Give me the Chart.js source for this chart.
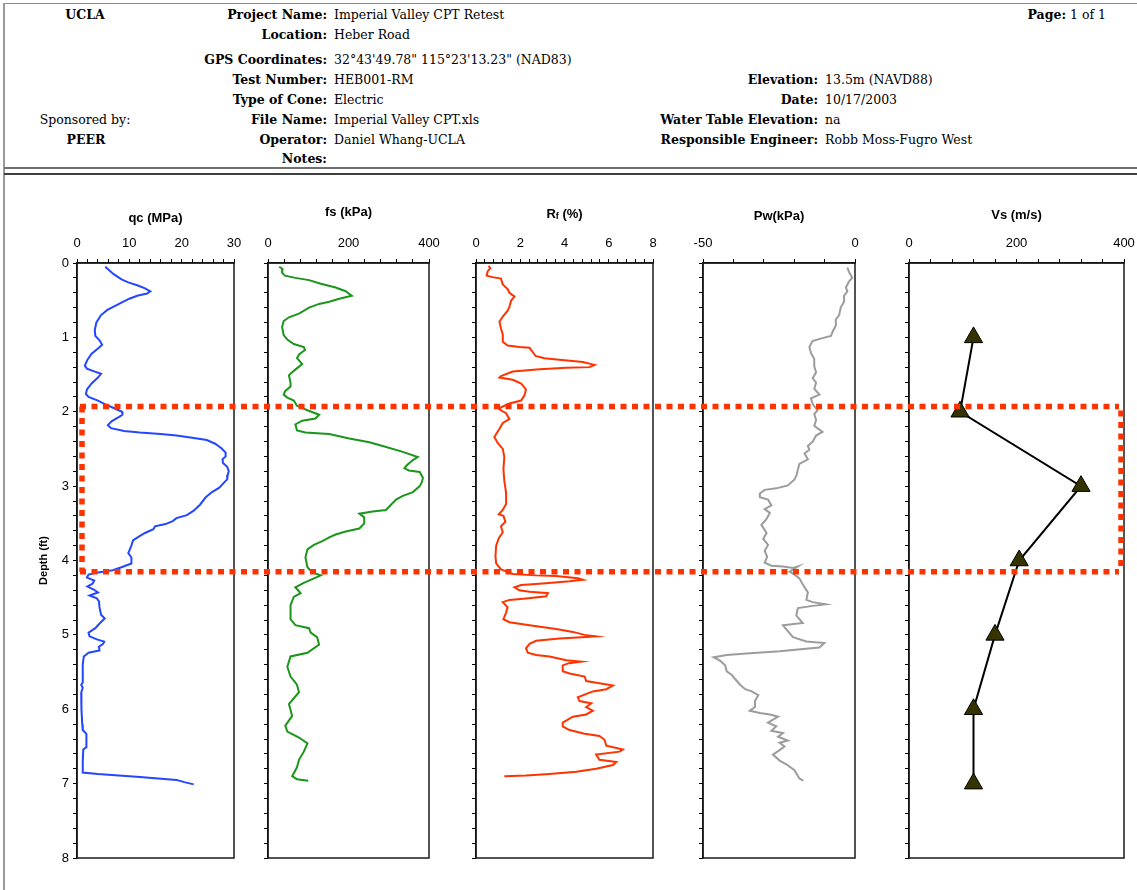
<!DOCTYPE html>
<html>
<head>
<meta charset="utf-8">
<title>CPT log - HEB001-RM</title>
<script src="https://cdn.jsdelivr.net/npm/chart.js@4.4.1/dist/chart.umd.min.js"></script>
<style>
  html, body { margin: 0; padding: 0; background: #fff; }
  body { width: 1137px; height: 890px; position: relative; overflow: hidden; }
  .hd { position: absolute; font-family: "DejaVu Serif", "Liberation Serif", serif; font-size: 12.5px;
        line-height: 14px; white-space: nowrap; color: #000; }
  .b { font-weight: bold; }
  .lab { text-align: right; }
  .ctr { text-align: center; width: 110px; }
  .rule { position: absolute; }
  canvas { position: absolute; }
</style>
</head>
<body>

<!-- header frame -->
<div class="rule" style="left:4px;top:3px;width:1133px;height:1px;background:#8a8a8a;"></div>
<div class="rule" style="left:3px;top:3px;width:2px;height:887px;background:#9a9a9a;"></div>
<div class="rule" style="left:4px;top:167px;width:1133px;height:2px;background:#707070;"></div>
<div class="rule" style="left:4px;top:173px;width:1133px;height:2px;background:#404040;"></div>

<!-- header: left block -->
<div class="hd b ctr" style="left:30px;top:8px;">UCLA</div>
<div class="hd ctr" style="left:30px;top:113px;">Sponsored by:</div>
<div class="hd b ctr" style="left:31px;top:133px;">PEER</div>

<!-- header: project fields -->
<div class="hd b lab" style="right:810px;top:8px;">Project Name:</div>
<div class="hd" style="left:334px;top:8px;">Imperial Valley CPT Retest</div>
<div class="hd b lab" style="right:810px;top:28px;">Location:</div>
<div class="hd" style="left:334px;top:28px;">Heber Road</div>
<div class="hd b lab" style="right:810px;top:53px;">GPS Coordinates:</div>
<div class="hd" style="left:334px;top:53px;">32°43'49.78" 115°23'13.23" (NAD83)</div>
<div class="hd b lab" style="right:810px;top:73px;">Test Number:</div>
<div class="hd" style="left:334px;top:73px;">HEB001-RM</div>
<div class="hd b lab" style="right:810px;top:93px;">Type of Cone:</div>
<div class="hd" style="left:334px;top:93px;">Electric</div>
<div class="hd b lab" style="right:810px;top:113px;">File Name:</div>
<div class="hd" style="left:334px;top:113px;">Imperial Valley CPT.xls</div>
<div class="hd b lab" style="right:810px;top:133px;">Operator:</div>
<div class="hd" style="left:334px;top:133px;">Daniel Whang-UCLA</div>
<div class="hd b lab" style="right:810px;top:152px;">Notes:</div>

<!-- header: right block -->
<div class="hd lab" style="right:31px;top:8px;"><span class="b">Page:</span> 1 of 1</div>
<div class="hd b lab" style="right:319px;top:73px;">Elevation:</div>
<div class="hd" style="left:825px;top:73px;">13.5m (NAVD88)</div>
<div class="hd b lab" style="right:319px;top:93px;">Date:</div>
<div class="hd" style="left:825px;top:93px;">10/17/2003</div>
<div class="hd b lab" style="right:319px;top:113px;">Water Table Elevation:</div>
<div class="hd" style="left:825px;top:113px;">na</div>
<div class="hd b lab" style="right:319px;top:133px;">Responsible Engineer:</div>
<div class="hd" style="left:825px;top:133px;">Robb Moss-Fugro West</div>

<div id="plots"></div>

<script>
// ---- depth axis (shared by all five logs) ----
const depthRange = [0, 8];
const depthMinorStep = 0.2;
const depthTickLabels = [0, 1, 2, 3, 4, 5, 6, 7, 8];

// ---- cone tip resistance qc (MPa) ----
const qcDepth = [0.05,0.15,0.22,0.26,0.30,0.34,0.38,0.41,0.44,0.48,0.53,0.58,0.63,0.70,0.80,0.90,0.98,1.04,1.10,1.15,
  1.22,1.30,1.38,1.42,1.46,1.49,1.54,1.62,1.70,1.76,1.80,1.85,1.90,1.95,2.00,2.04,2.08,2.13,2.18,2.22,
  2.26,2.28,2.30,2.32,2.35,2.38,2.43,2.49,2.55,2.60,2.64,2.69,2.74,2.80,2.85,2.91,2.96,3.02,3.08,3.15,
  3.25,3.33,3.39,3.43,3.47,3.51,3.54,3.58,3.63,3.68,3.73,3.80,3.90,3.96,4.04,4.09,4.13,4.16,4.19,4.23,
  4.27,4.31,4.35,4.39,4.43,4.47,4.51,4.55,4.63,4.73,4.78,4.84,4.91,4.97,5.02,5.06,5.09,5.12,5.16,5.21,
  5.24,5.29,5.40,5.55,5.64,5.67,5.71,5.78,5.90,6.00,6.20,6.28,6.33,6.45,6.51,6.54,6.70,6.85,6.87,6.89,
  6.91,6.93,6.95,6.98,7.01];
const qcValues = [5.4,7.0,8.5,9.8,11.5,13.0,14.0,13.4,11.5,10.0,8.6,7.2,5.8,4.6,3.7,3.4,3.5,4.3,4.8,4.0,
  2.8,2.0,1.5,1.9,3.4,4.6,4.0,2.8,1.9,1.7,2.2,4.0,5.4,7.0,8.6,8.7,7.8,6.6,5.9,6.5,
  9.0,12.0,16.0,19.0,22.0,24.8,26.4,27.6,28.4,28.4,27.8,27.9,28.7,29.0,28.8,28.7,28.0,27.2,25.8,24.6,
  23.5,22.3,21.0,19.0,18.3,16.9,14.9,14.6,13.0,11.8,10.7,10.4,9.8,10.4,10.4,8.5,6.8,4.0,2.2,1.9,
  3.3,3.0,2.0,3.2,4.0,2.4,3.8,4.2,4.3,4.6,5.3,4.4,3.5,2.2,2.4,3.8,5.2,5.0,4.2,4.3,
  2.2,1.3,1.1,1.1,1.1,0.8,1.1,0.8,0.8,0.9,1.0,1.1,1.8,1.8,1.8,1.2,1.1,1.1,4.0,8.0,
  12.0,15.5,19.0,20.5,22.3];

// ---- sleeve friction fs (kPa) ----
const fsDepth = [0.05,0.08,0.13,0.17,0.20,0.23,0.28,0.33,0.38,0.44,0.48,0.52,0.55,0.60,0.68,0.73,0.78,0.86,0.97,1.03,
  1.09,1.13,1.17,1.23,1.28,1.36,1.45,1.51,1.61,1.66,1.72,1.77,1.81,1.85,1.92,1.98,2.04,2.09,2.12,2.17,
  2.25,2.28,2.30,2.36,2.41,2.46,2.54,2.61,2.65,2.72,2.76,2.79,2.81,2.89,2.95,3.00,3.08,3.13,3.18,3.32,
  3.34,3.37,3.42,3.50,3.57,3.61,3.65,3.69,3.74,3.79,3.85,3.96,4.09,4.16,4.20,4.25,4.30,4.36,4.44,4.49,
  4.60,4.79,4.87,4.91,4.97,5.03,5.13,5.24,5.29,5.43,5.56,5.67,5.77,5.93,6.09,6.22,6.30,6.38,6.46,6.57,
  6.68,6.78,6.90,6.94,6.96];
const fsValues = [28,36,35,42,68,102,131,168,193,208,177,152,127,102,77,52,39,35,39,48,
  64,89,92,77,72,85,64,52,56,56,43,39,48,64,72,98,127,118,85,68,
  72,93,152,202,252,285,335,372,360,345,339,350,377,385,382,377,360,335,318,293,
  260,227,239,239,227,193,168,152,135,114,98,93,98,110,131,110,89,68,81,64,
  56,56,68,102,106,122,127,98,56,48,56,72,77,52,60,43,48,77,98,89,
  77,72,60,72,100];

// ---- friction ratio Rf (%) ----
const rfDepth = [0.04,0.07,0.11,0.17,0.19,0.21,0.29,0.35,0.40,0.45,0.51,0.59,0.64,0.72,0.79,0.88,0.96,1.06,1.11,1.13,
  1.14,1.20,1.25,1.28,1.30,1.33,1.37,1.40,1.41,1.43,1.46,1.52,1.54,1.57,1.62,1.70,1.78,1.85,1.89,1.94,
  1.97,2.02,2.10,2.15,2.23,2.34,2.42,2.50,2.61,2.77,2.93,3.09,3.24,3.32,3.38,3.40,3.48,3.54,3.62,3.70,
  3.80,3.94,4.04,4.12,4.18,4.20,4.21,4.24,4.26,4.28,4.31,4.33,4.36,4.40,4.42,4.44,4.48,4.51,4.53,4.56,
  4.63,4.70,4.79,4.83,4.87,4.92,4.96,5.00,5.02,5.03,5.05,5.08,5.12,5.18,5.24,5.27,5.29,5.34,5.36,5.38,
  5.41,5.49,5.52,5.56,5.62,5.65,5.68,5.73,5.76,5.84,5.89,5.92,5.97,6.02,6.07,6.10,6.18,6.23,6.28,6.33,
  6.36,6.41,6.49,6.54,6.57,6.61,6.68,6.71,6.75,6.80,6.84,6.87,6.89,6.90];
const rfValues = [0.57,0.65,0.53,0.48,0.75,1.13,1.21,1.43,1.51,1.74,1.58,1.51,1.43,1.21,1.06,1.13,1.21,1.21,1.43,1.96,
  2.42,2.57,2.69,3.09,3.77,4.83,5.36,5.13,4.08,2.87,1.66,1.13,1.06,1.66,2.04,2.26,2.19,2.04,1.51,1.13,
  1.06,1.36,1.51,1.21,1.06,0.83,0.98,1.21,1.28,1.24,1.28,1.36,1.36,1.21,1.03,1.24,1.33,1.13,1.21,1.03,
  0.91,0.88,0.91,1.13,1.66,2.72,3.62,4.60,4.83,4.23,3.02,2.04,1.74,1.96,2.42,3.25,3.17,2.26,1.51,1.21,
  1.43,1.36,1.24,1.51,2.42,3.62,4.38,4.91,5.43,4.98,3.77,2.72,2.42,2.26,2.34,2.72,3.32,4.08,4.75,4.20,
  3.92,3.92,4.23,4.91,4.98,5.58,6.19,5.89,5.28,4.60,4.68,5.21,4.98,5.28,4.98,4.38,3.92,3.92,4.23,4.91,
  5.58,5.81,5.89,6.64,6.49,5.43,5.58,6.34,6.19,5.43,4.53,3.32,2.26,1.28];

// ---- pore water pressure Pw (kPa) ----
const pwDepth = [0.06,0.12,0.20,0.25,0.33,0.38,0.44,0.52,0.60,0.70,0.76,0.84,0.91,0.98,1.01,1.05,1.13,1.21,1.29,1.39,
  1.47,1.55,1.61,1.69,1.77,1.82,1.90,1.98,2.03,2.11,2.19,2.27,2.32,2.40,2.46,2.51,2.56,2.64,2.70,2.78,
  2.86,2.91,2.99,3.03,3.05,3.10,3.15,3.18,3.26,3.31,3.36,3.44,3.52,3.63,3.71,3.79,3.87,3.95,4.03,4.07,
  4.08,4.10,4.08,4.15,4.19,4.24,4.32,4.43,4.53,4.56,4.59,4.61,4.64,4.74,4.84,4.87,4.95,5.03,5.09,5.11,
  5.17,5.22,5.25,5.27,5.30,5.35,5.41,5.49,5.54,5.59,5.67,5.73,5.76,5.81,5.89,5.97,6.02,6.05,6.07,6.10,
  6.18,6.23,6.29,6.32,6.37,6.42,6.45,6.50,6.55,6.61,6.69,6.74,6.82,6.93,6.96];
const pwValues = [-2.5,-2.0,-0.9,-2.0,-3.0,-2.5,-3.6,-3.6,-4.7,-5.2,-6.3,-6.3,-7.2,-7.9,-10.7,-14.0,-15.0,-14.5,-13.4,-13.4,
  -12.8,-13.9,-12.8,-13.4,-11.7,-14.5,-13.9,-12.3,-13.4,-12.8,-13.4,-10.7,-12.8,-13.9,-15.5,-15.0,-16.6,-15.5,-18.3,-18.8,
  -19.3,-19.9,-22.1,-25.9,-29.7,-31.3,-31.3,-28.6,-27.5,-29.7,-28.0,-29.1,-30.8,-29.1,-30.2,-28.6,-29.7,-28.9,-29.7,-27.5,
  -23.7,-20.4,-18.8,-21.5,-19.9,-18.3,-17.2,-15.5,-16.0,-13.9,-9.6,-13.9,-18.8,-19.3,-17.2,-23.7,-22.1,-20.4,-16.0,-10.1,
  -11.7,-24.8,-35.7,-42.2,-46.5,-44.3,-42.7,-42.2,-40.5,-39.5,-37.8,-36.1,-34.0,-31.8,-32.9,-32.9,-34.6,-31.3,-28.0,-25.3,
  -28.6,-25.9,-27.5,-23.7,-25.3,-22.1,-24.8,-23.2,-24.8,-27.0,-24.8,-22.6,-19.9,-18.3,-17.0];

// ---- shear wave velocity Vs (m/s) ----
const vsDepth = [1, 2, 3, 4, 5, 6, 7];
const vsValues = [120, 95, 320, 205, 160, 120, 120];

// ---- horizontal axis ranges and labelled ticks ----
const qcAxis = { min: 0, max: 30, minor: 2, labels: [0, 10, 20, 30] };
const fsAxis = { min: 0, max: 400, minor: 40, labels: [0, 200, 400] };
const rfAxis = { min: 0, max: 8, minor: 0.4, labels: [0, 2, 4, 6, 8] };
const pwAxis = { min: -50, max: 0, minor: 10, labels: [-50, 0] };
const vsAxis = { min: 0, max: 400, minor: 40, labels: [0, 200, 400] };

// depth interval outlined across all logs
const zoneDepths = [1.93, 4.15];

// ---------------------------------------------------------------
const PLOT_TOP = 263, PLOT_BOTTOM = 858, CANVAS_TOP = 180;
const TICK_FONT = { family: "'Liberation Sans', Arial, sans-serif", size: 13 };
const TITLE_FONT = "bold 13px 'Liberation Sans', Arial, sans-serif";
const SUB_FONT = "bold 9px 'Liberation Sans', Arial, sans-serif";

const panels = [
  { depth: qcDepth, values: qcValues, axis: qcAxis, color: '#2446ff', left: 77, right: 234, titleY: 218,
    title: [{ t: 'qc (MPa)' }], depthLabels: true },
  { depth: fsDepth, values: fsValues, axis: fsAxis, color: '#1b961b', left: 268, right: 429, titleY: 212,
    title: [{ t: 'fs (kPa)' }] },
  { depth: rfDepth, values: rfValues, axis: rfAxis, color: '#ff3300', left: 476, right: 653, titleY: 214,
    title: [{ t: 'R' }, { t: 'f', sub: true }, { t: ' (%)' }] },
  { depth: pwDepth, values: pwValues, axis: pwAxis, color: '#9c9c9c', left: 703, right: 855, titleY: 216,
    title: [{ t: 'Pw(kPa)' }] },
  { depth: vsDepth, values: vsValues, axis: vsAxis, color: '#000000', left: 909, right: 1124, titleY: 215,
    title: [{ t: 'Vs (m/s)' }], markers: true }
];

function tickValues(min, max, step) {
  const n = Math.round((max - min) / step);
  const out = [];
  for (let i = 0; i <= n; i++) out.push(+(min + i * step).toFixed(6));
  return out;
}
function isLabelled(list, v) { return list.some(l => Math.abs(l - v) < 1e-6); }

// frame around each plot area plus the log title above it
const panelDecor = {
  id: 'panelDecor',
  afterDraw(chart, args, opts) {
    const { ctx, chartArea: a } = chart;
    ctx.save();
    ctx.strokeStyle = '#1a1a1a';
    ctx.lineWidth = 1.5;
    ctx.strokeRect(a.left, a.top, a.right - a.left, a.bottom - a.top);

    const parts = opts.parts || [];
    ctx.fillStyle = '#000';
    ctx.textBaseline = 'middle';
    ctx.textAlign = 'left';
    let total = 0;
    parts.forEach(p => {
      ctx.font = p.sub ? SUB_FONT : TITLE_FONT;
      p.w = ctx.measureText(p.t).width;
      total += p.w;
    });
    let x = (a.left + a.right) / 2 - total / 2;
    parts.forEach(p => {
      ctx.font = p.sub ? SUB_FONT : TITLE_FONT;
      ctx.fillText(p.t, x, opts.y + (p.sub ? 3 : 0));
      x += p.w;
    });
    ctx.restore();
  }
};

const plots = document.getElementById('plots');
const charts = [];
const offsets = [];

panels.forEach((p) => {
  const yWidth = p.depthLabels ? 44 : 8;
  const padLeft = p.depthLabels ? 0 : 10;
  const padRight = 13;
  const canvasLeft = p.left - yWidth - padLeft;
  const width = padLeft + yWidth + (p.right - p.left) + padRight;
  const height = PLOT_BOTTOM + 12 - CANVAS_TOP;

  const cv = document.createElement('canvas');
  cv.width = width; cv.height = height;
  cv.style.left = canvasLeft + 'px';
  cv.style.top = CANVAS_TOP + 'px';
  cv.style.width = width + 'px';
  cv.style.height = height + 'px';
  plots.appendChild(cv);
  offsets.push({ x: canvasLeft, y: CANVAS_TOP });

  const points = p.depth.map((d, k) => ({ x: p.values[k], y: d }));
  const ax = p.axis;

  const dataset = {
    data: points,
    showLine: true,
    borderColor: p.color,
    borderWidth: 2,
    tension: 0,
    pointRadius: 0,
    pointHoverRadius: 0
  };
  if (p.markers) {
    Object.assign(dataset, {
      pointStyle: 'triangle',
      pointRadius: 10.5,
      pointBackgroundColor: '#353300',
      pointBorderColor: '#000',
      pointBorderWidth: 1
    });
  }

  const chart = new Chart(cv, {
    type: 'scatter',
    data: { datasets: [dataset] },
    options: {
      responsive: false,
      animation: false,
      devicePixelRatio: 1,
      events: [],
      layout: { padding: { left: padLeft, right: padRight, top: 0, bottom: 12 } },
      plugins: {
        legend: { display: false },
        tooltip: { enabled: false },
        panelDecor: { parts: p.title, y: p.titleY - CANVAS_TOP }
      },
      scales: {
        x: {
          type: 'linear',
          position: 'top',
          min: ax.min,
          max: ax.max,
          afterBuildTicks: s => { s.ticks = tickValues(ax.min, ax.max, ax.minor).map(v => ({ value: v })); },
          afterFit: s => {
            s.height = PLOT_TOP - CANVAS_TOP;
            s.paddingLeft = 0; s.paddingRight = 0;
          },
          ticks: {
            autoSkip: false,
            maxRotation: 0,
            padding: 8,
            color: '#000',
            font: TICK_FONT,
            callback: v => isLabelled(ax.labels, v) ? String(v) : ''
          },
          grid: { drawOnChartArea: false, drawTicks: true, tickLength: 4, color: '#000', lineWidth: 1 },
          border: { display: true, color: '#000', width: 1.5 }
        },
        y: {
          type: 'linear',
          reverse: true,
          min: depthRange[0],
          max: depthRange[1],
          afterBuildTicks: s => { s.ticks = tickValues(depthRange[0], depthRange[1], depthMinorStep).map(v => ({ value: v })); },
          afterFit: s => {
            s.width = yWidth;
            s.paddingTop = 0; s.paddingBottom = 0;
          },
          title: {
            display: !!p.depthLabels,
            text: 'Depth (ft)',
            color: '#000',
            font: { family: "'Liberation Sans', Arial, sans-serif", size: 11, weight: 'bold' },
            padding: { top: 4, bottom: 4 }
          },
          ticks: {
            display: !!p.depthLabels,
            autoSkip: false,
            padding: 4,
            color: '#000',
            font: TICK_FONT,
            callback: v => isLabelled(depthTickLabels, v) ? String(Math.round(v)) : ''
          },
          grid: { drawOnChartArea: false, drawTicks: true, tickLength: 4, color: '#000', lineWidth: 1 },
          border: { display: true, color: '#000', width: 1.5 }
        }
      }
    },
    plugins: [panelDecor]
  });
  charts.push(chart);
});

// dotted red outline of the depth interval, spanning every log
function drawZone() {
  const first = charts[0], last = charts[charts.length - 1];
  const o1 = offsets[0], o5 = offsets[offsets.length - 1];
  const yTop = o1.y + first.scales.y.getPixelForValue(zoneDepths[0]);
  const yBot = o1.y + first.scales.y.getPixelForValue(zoneDepths[1]);
  const xL = o1.x + first.chartArea.left + 5;
  const xR = o5.x + last.chartArea.right - 3;

  const cv = document.createElement('canvas');
  cv.width = 1137; cv.height = 890;
  cv.style.left = '0px'; cv.style.top = '0px';
  cv.style.pointerEvents = 'none';
  document.body.appendChild(cv);
  const ctx = cv.getContext('2d');
  ctx.strokeStyle = '#ff3300';
  ctx.lineWidth = 5.5;
  ctx.lineCap = 'butt';
  ctx.setLineDash([6, 5.5]);
  const seg = (x1, y1, x2, y2) => { ctx.beginPath(); ctx.moveTo(x1, y1); ctx.lineTo(x2, y2); ctx.stroke(); };
  seg(xL - 2, yTop, xR - 2, yTop);
  seg(xL - 2, yBot, xR - 2, yBot);
  seg(xL, yTop, xL, yBot);
  seg(xR, yTop + 4, xR, yBot - 4);
}
drawZone();
</script>
</body>
</html>
